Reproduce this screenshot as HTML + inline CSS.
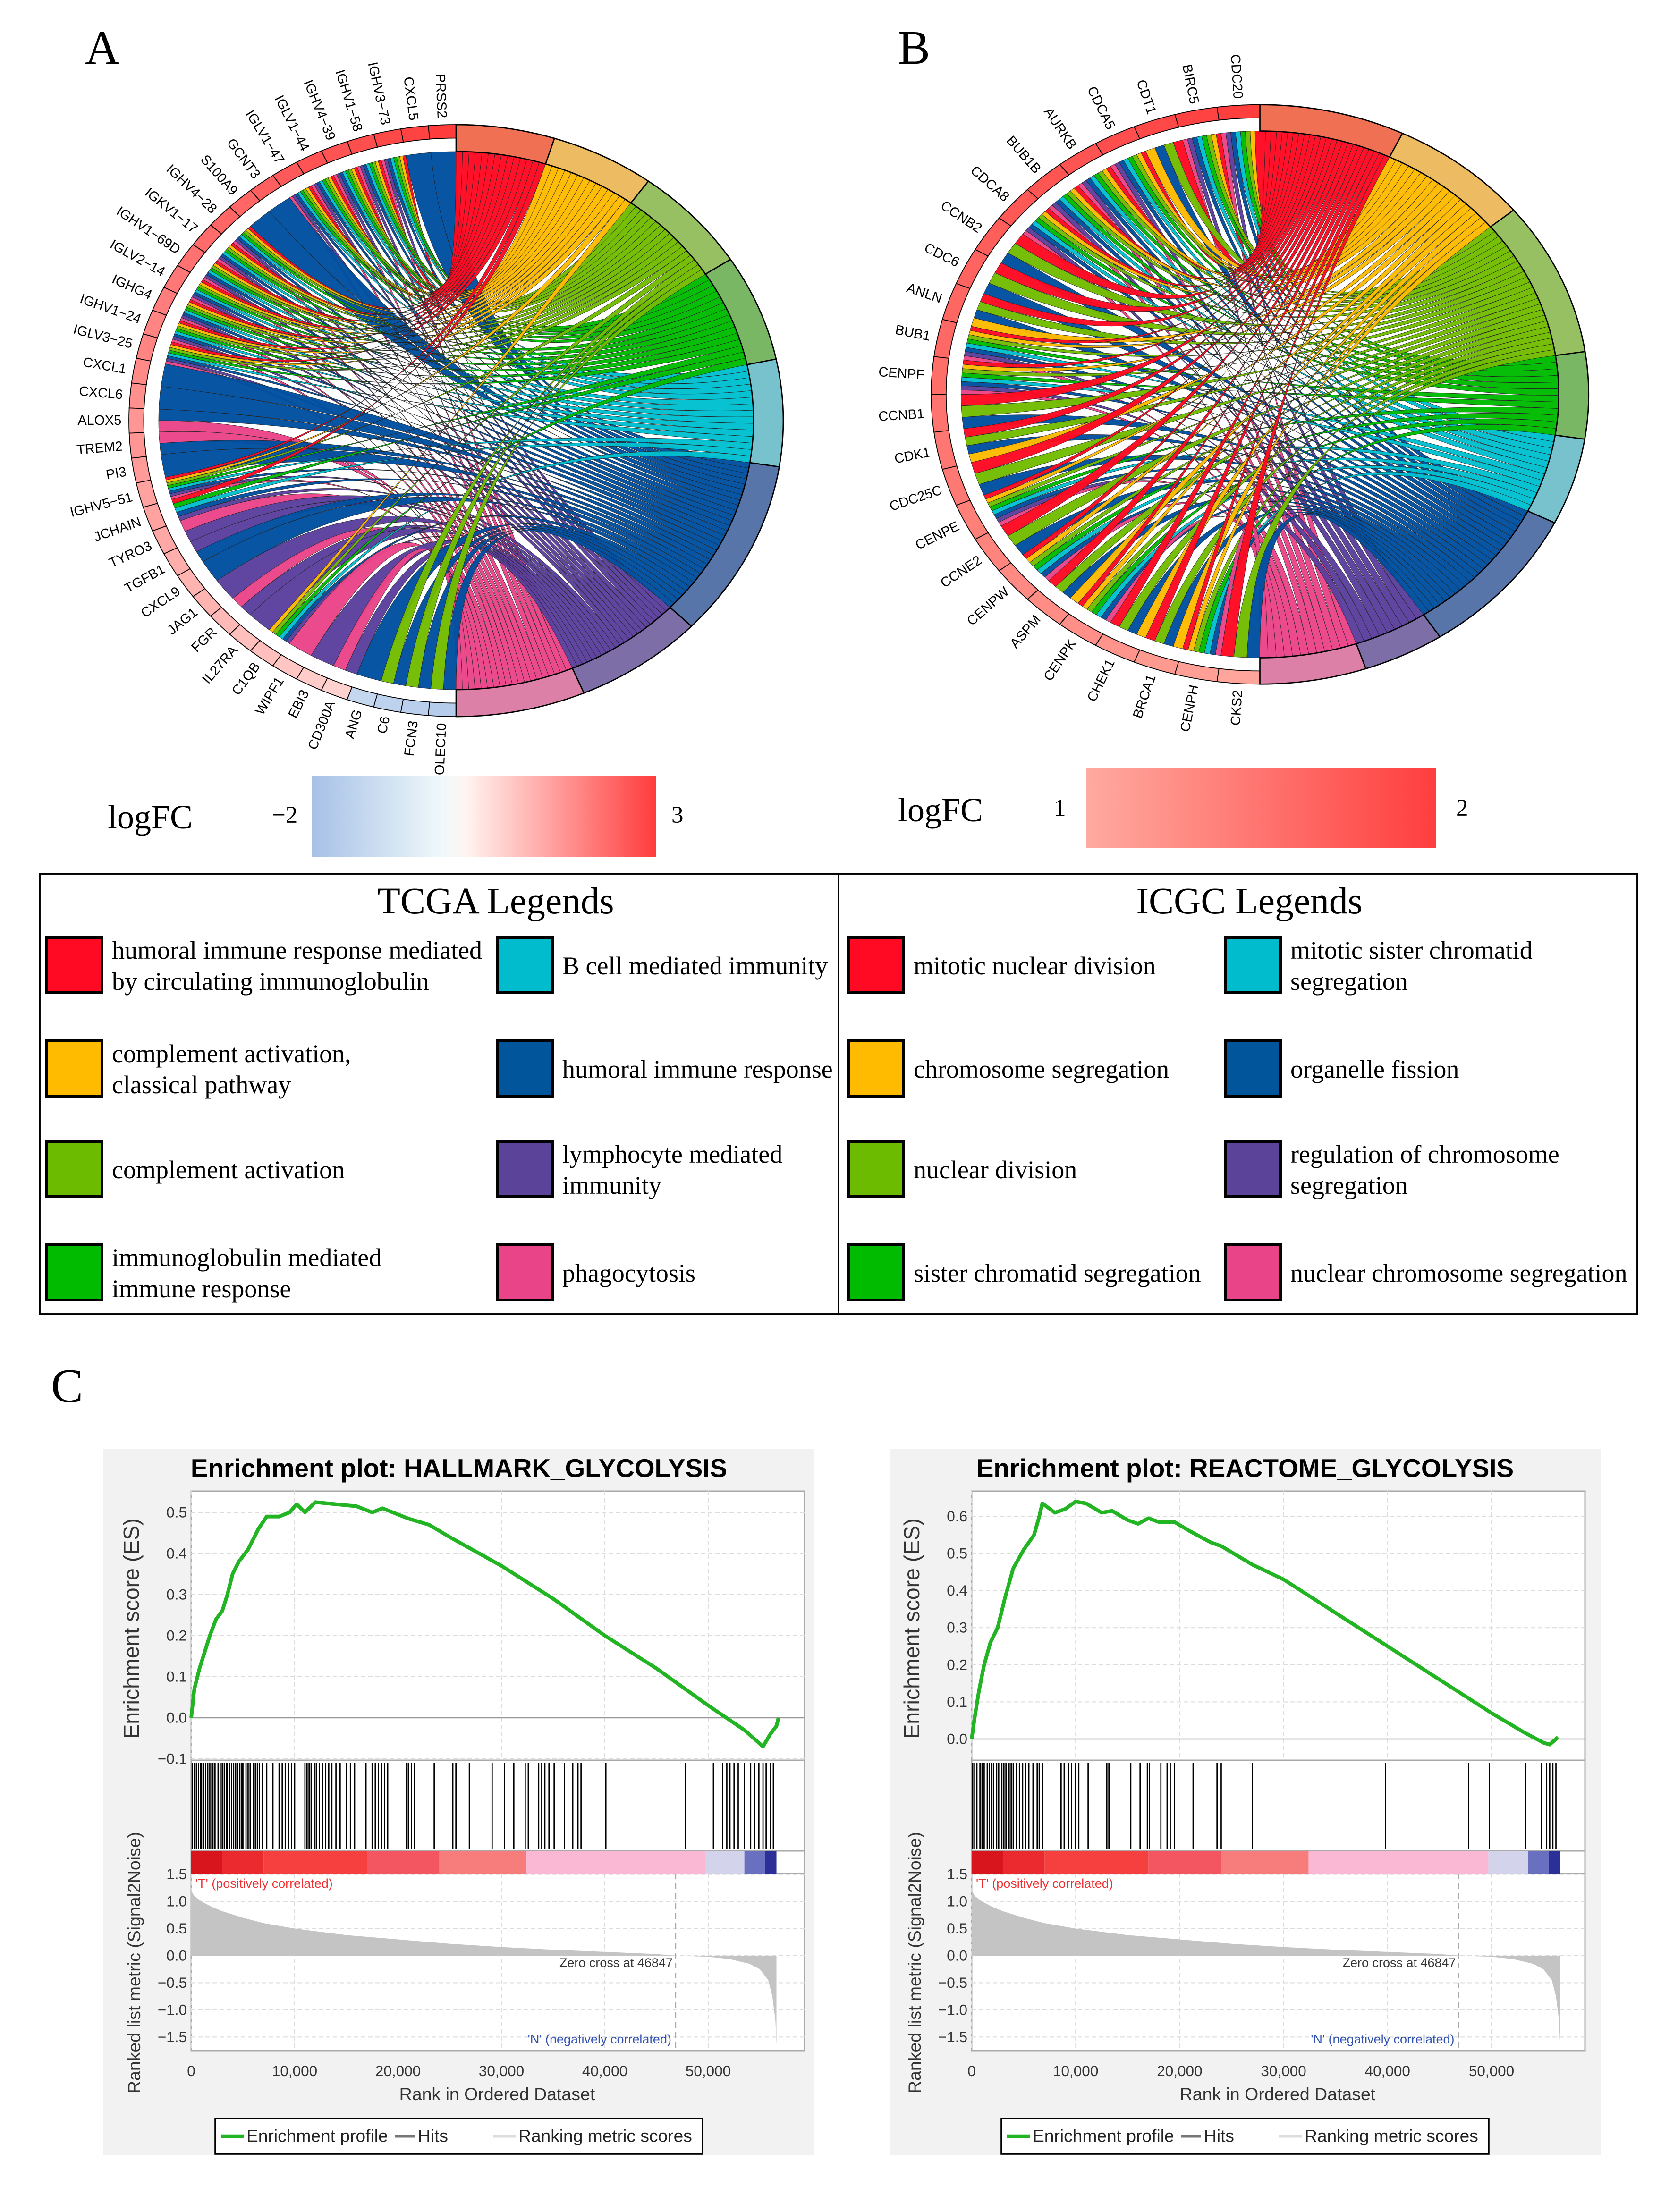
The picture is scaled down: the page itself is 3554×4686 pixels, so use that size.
<!DOCTYPE html>
<html><head><meta charset="utf-8"><style>
html,body{margin:0;padding:0;background:#fff}
svg{display:block}
.serif{font-family:"Liberation Serif",serif}
.sans{font-family:"Liberation Sans",sans-serif}
</style></head><body>
<svg id="fig" xmlns="http://www.w3.org/2000/svg" width="3554" height="4686" viewBox="0 0 1184.67 1562">
<defs>
<linearGradient id="gradA" x1="0" x2="1" y1="0" y2="0"><stop offset="0" stop-color="#a6c1e6"/><stop offset="0.38" stop-color="#f0f9fb"/><stop offset="0.45" stop-color="#fff4f0"/><stop offset="1" stop-color="#ff3c3c"/></linearGradient>
<linearGradient id="gradB" x1="0" x2="1" y1="0" y2="0"><stop offset="0" stop-color="#ffaaa0"/><stop offset="1" stop-color="#ff3e3e"/></linearGradient>
</defs>
<g class="serif" font-size="34"><text x="60" y="45">A</text><text x="634" y="45">B</text><text x="36" y="990">C</text></g>
<g id="chordA"></g>
<g id="chordB"></g>
<g class="serif"><text x="76" y="585" font-size="24">logFC</text><text x="192" y="581" font-size="17">−2</text><rect x="220" y="548" width="243" height="57" fill="url(#gradA)"/><text x="474" y="581" font-size="17">3</text></g>
<g class="serif"><text x="634" y="580" font-size="24">logFC</text><text x="744" y="576" font-size="17">1</text><rect x="767" y="542" width="247" height="57" fill="url(#gradB)"/><text x="1028" y="576" font-size="17">2</text></g>
<g id="legends" class="serif"></g>
<g id="gsea1" class="sans"></g>
<g id="gsea2" class="sans"></g>
</svg>
<script>
// ---------- Chord data ----------
const genesA=["PRSS2","CXCL5","IGHV3−73","IGHV1−58","IGHV4−39","IGLV1−44","IGLV1−47","GCNT3","S100A9","IGHV4−28","IGKV1−17","IGHV1−69D","IGLV2−14","IGHG4","IGHV1−24","IGLV3−25","CXCL1","CXCL6","ALOX5","TREM2","PI3","IGHV5−51","JCHAIN","TYRO3","TGFB1","CXCL9","JAG1","FGR","IL27RA","C1QB","WIPF1","EBI3","CD300A","ANG","C6","FCN3","COLEC10"];
const logfcA=[3.0,2.9,2.8,2.7,2.6,2.6,2.5,2.4,2.3,2.3,2.2,2.1,2.0,1.9,1.8,1.8,1.7,1.6,1.5,1.5,1.4,1.3,1.3,1.2,1.1,1.0,1.0,0.9,0.8,0.8,0.7,0.6,0.5,-1.2,-1.4,-1.5,-1.6];
const IG=[0,1,2,3,4,5,6,7];
const linksA=[[5],[5],IG,IG,IG,IG,IG,[5],[5],IG,IG,IG,IG,IG,IG,IG,[5],[5],[5,7],[7,5],[5],IG,[0,3,4,5,6],[7,6],[6,5],[5],[6],[7,6],[6],[1,2,3,4,5,6],[7],[6],[7,6],[5],[2,5],[2,5],[2,5]];
const termSpanA=[17.5,18.5,21,21,21,35,23,23];
const genesB=["CDC20","BIRC5","CDT1","CDCA5","AURKB","BUB1B","CDCA8","CCNB2","CDC6","ANLN","BUB1","CENPF","CCNB1","CDK1","CDC25C","CENPE","CCNE2","CENPW","ASPM","CENPK","CHEK1","BRCA1","CENPH","CKS2"];
const logfcB=[2.0,1.95,1.9,1.85,1.8,1.78,1.75,1.7,1.65,1.62,1.6,1.55,1.5,1.47,1.45,1.4,1.35,1.3,1.27,1.25,1.2,1.15,1.1,1.05];
const ALLB=[0,1,2,3,4,5,6,7], MOSTB=[0,1,2,3,4,5,7];
const linksB=[ALLB,ALLB,[0,2,5,1],ALLB,ALLB,ALLB,ALLB,[0,2,5],[0,2,5],[0,2,5,1],ALLB,ALLB,[0,2,5],[0,2,5,1],[0,2,5],ALLB,[0,2,5],MOSTB,[0,2,5,1],MOSTB,[0,2,5,1],[0,2,5,1],MOSTB,[0,2,5]];
const termSpanB=[25.7,24.8,31,17.4,17.4,30.5,14.4,18.8];
const linkCols=["#ff0a22","#ffbb00","#72bc00","#00bb00","#00bfd0","#0050a0","#5b3f9e","#ea4488"];
const bandCols=["#f07053","#ecbb62","#97c062","#7ab765","#77c2cc","#5875aa","#7e6ea8","#dd80a8"];

const NS="http://www.w3.org/2000/svg";
function mk(tag,attrs,parent){const e=document.createElementNS(NS,tag);for(const k in attrs)e.setAttribute(k,attrs[k]);if(parent)parent.appendChild(e);return e;}
function lerp(a,b,t){return a+(b-a)*t}
function hex(c){return [parseInt(c.substr(1,2),16),parseInt(c.substr(3,2),16),parseInt(c.substr(5,2),16)]}
function mix(c1,c2,t){const a=hex(c1),b=hex(c2);return "rgb("+a.map((v,i)=>Math.round(lerp(v,b[i],t))).join(",")+")"}

function drawChord(g,cx,cy,rx,ry,genes,logfc,links,spans,colFn){
  const P=(deg,f)=>{const r=deg*Math.PI/180;return [cx+rx*f*Math.cos(r),cy+ry*f*Math.sin(r)]};
  const arcPts=(a1,a2,f)=>{const n=Math.max(2,Math.ceil(Math.abs(a2-a1)/1.5));const o=[];for(let i=0;i<=n;i++){const p=P(lerp(a1,a2,i/n),f);o.push(p[0].toFixed(2)+","+p[1].toFixed(2))}return o};
  const band=(a1,a2,f1,f2)=>"M"+arcPts(a1,a2,f2).join("L")+"L"+arcPts(a2,a1,f1).join("L")+"Z";
  const N=genes.length, gw=180/N;
  const cnt=spans.map(()=>0); links.forEach(l=>l.forEach(t=>cnt[t]++));
  const tStart=[];let acc=-90;spans.forEach((s,i)=>{tStart.push(acc);acc+=s});
  const used=spans.map(()=>0);
  const gl=mk("g",{},g);
  
  
  genes.forEach((gname,i)=>{
    const a0=270-i*gw, ls=links[i], sw=gw/ls.length;
    ls.forEach((t,k)=>{
      const ga1=a0-k*sw, ga2=a0-(k+1)*sw;
      const ts=spans[t]/cnt[t];
      const tb1=tStart[t]+used[t]*ts, tb2=tb1+ts; used[t]++;
      const cC=cx.toFixed(1)+","+cy.toFixed(1);
      const d="M"+arcPts(ga1,ga2,1).join("L")+"Q"+cC+" "+P(tb1,1).map(v=>v.toFixed(2)).join(",")+"L"+arcPts(tb1,tb2,1).join("L")+"Q"+cC+" "+P(ga1,1).map(v=>v.toFixed(2)).join(",")+"Z";
      const p=mk("path",{d:d,fill:linkCols[t],stroke:"#222","stroke-width":"0.25","fill-opacity":"0.97"},gl);
      
      
    });
  });
  genes.forEach((gname,i)=>{
    const a1=270-i*gw,a2=a1-gw;
    const s=mk("path",{d:band(a1,a2,1.05,1.10),fill:colFn(logfc[i]),stroke:"#000","stroke-width":"0.6"},g);
    
    
    const am=(a1+a2)/2, p=P(am,1.125);
    const tx=mk("text",{x:p[0].toFixed(2),y:p[1].toFixed(2),"font-size":"9.6","text-anchor":"end","dominant-baseline":"central","class":"sans",transform:"rotate("+(am-180).toFixed(2)+" "+p[0].toFixed(2)+" "+p[1].toFixed(2)+")"},g);
    tx.textContent=gname;
    
    
  });
  spans.forEach((s,t)=>{
    const b=mk("path",{d:band(tStart[t],tStart[t]+s,1.0,1.10),fill:bandCols[t],stroke:"#000","stroke-width":"0.9"},g);
    
    
  });
}
const colA=v=>v<0?mix("#f2f9fc","#a6c1e6",Math.min(1,-v/2)):mix("#fff0ec","#ff3c3c",Math.min(1,v/3));
const colB=v=>mix("#ffaaa0","#ff3e3e",Math.max(0,Math.min(1,v-1)));
drawChord(document.getElementById("chordA"),322,297,210,190,genesA,logfcA,linksA,termSpanA,colA);
drawChord(document.getElementById("chordB"),889.5,278.5,211,186,genesB,logfcB,linksB,termSpanB,colB);

// ---------- Legends ----------
const tcgaTerms=[["humoral immune response mediated","by circulating immunoglobulin"],["complement activation,","classical pathway"],["complement activation"],["immunoglobulin mediated","immune response"],["B cell mediated immunity"],["humoral immune response"],["lymphocyte mediated","immunity"],["phagocytosis"]];
const icgcTerms=[["mitotic nuclear division"],["chromosome segregation"],["nuclear division"],["sister chromatid segregation"],["mitotic sister chromatid","segregation"],["organelle fission"],["regulation of chromosome","segregation"],["nuclear chromosome segregation"]];
const swCols=["#ff0a22","#ffbb00","#6cbb00","#00bb00","#00bccd","#00559b","#5b439a","#ea4488"];
const LG=document.getElementById("legends");
function legendBox(x,title,tcx,terms,c1,c2,name){
  const g=mk("g",{},LG);
  
  
  mk("rect",{x:x,y:617,width:564,height:311,fill:"none",stroke:"#000","stroke-width":"1.3"},g);
  const t=mk("text",{x:tcx,y:645,"font-size":"26.5","text-anchor":"middle"},g);t.textContent=title;
  const rows=[682,755,826,899];
  terms.forEach((lines,i)=>{
    const col=i<4?0:1,row=i%4, sx=x+(col?c2:c1);
    const e=mk("g",{},g);
    
    
    mk("rect",{x:sx,y:rows[row]-20,width:39,height:39,fill:swCols[i],stroke:"#000","stroke-width":"2"},e);
    lines.forEach((ln,k)=>{
      const y=rows[row]+6+(lines.length===2?(k===0?-11:11):0);
      const tt=mk("text",{x:sx+46,y:y,"font-size":"18"},e);tt.textContent=ln;
    });
  });
}
legendBox(28,"TCGA Legends",350,tcgaTerms,5,323,"tcga-legend");
legendBox(592,"ICGC Legends",882,icgcTerms,7,273,"icgc-legend");

// ---------- GSEA data ----------
const esRank1=[0,0.3,0.8,1.3,1.8,2.4,3.0,3.5,4.0,4.6,5.5,6.5,7.3,8.5,9.5,10.2,11.0,12.0,14.0,16.0,17.5,18.5,19.5,21.0,23.0,25.0,30.0,35.0,40.0,45.0,50.0,53.5,55.3,56.0,56.6,56.8];
const esVal1=[0,0.07,0.12,0.16,0.2,0.24,0.26,0.3,0.35,0.38,0.41,0.46,0.49,0.49,0.5,0.52,0.5,0.525,0.52,0.515,0.5,0.51,0.5,0.485,0.47,0.44,0.37,0.29,0.2,0.12,0.03,-0.03,-0.07,-0.04,-0.02,0.0];
const hits1=[0.1,0.3,0.5,0.7,0.9,1.0,1.2,1.4,1.6,1.8,2.0,2.1,2.3,2.6,2.8,3.0,3.2,3.4,3.5,3.7,3.9,4.1,4.3,4.5,4.7,4.9,5.0,5.3,5.5,5.7,6.0,6.2,6.4,6.6,6.9,7.3,7.9,8.5,8.8,9.1,9.4,9.7,10.0,11.0,11.2,11.4,11.6,11.9,12.1,12.4,12.7,13.0,13.3,13.6,14.0,14.4,15.0,15.4,15.8,16.9,17.5,17.8,18.1,18.4,18.7,19.0,20.8,21.0,21.3,21.6,23.5,25.3,25.6,26.9,29.1,30.3,31.2,32.3,32.6,33.6,33.9,34.2,34.6,35.1,36.1,36.9,37.4,37.7,40.1,47.8,50.5,51.4,51.8,52.1,52.5,52.9,53.5,54.1,54.5,54.9,55.3,55.6,56.0,56.3];
const esRank2=[0,0.3,0.7,1.2,1.8,2.5,3.2,4.0,5.0,6.0,6.5,6.8,8.0,9.0,10.0,11.0,12.5,13.5,15.0,16.0,17.0,18.0,19.5,21.0,23.0,24.0,27.0,30.0,35.0,40.0,45.0,50.0,53.0,55.0,55.6,56.4];
const esVal2=[0,0.06,0.13,0.2,0.26,0.3,0.38,0.46,0.51,0.55,0.6,0.635,0.61,0.62,0.64,0.635,0.61,0.615,0.59,0.58,0.595,0.585,0.585,0.56,0.53,0.52,0.47,0.43,0.34,0.25,0.16,0.07,0.02,-0.01,-0.015,0.005];
const hits2=[0.1,0.3,0.5,0.8,1.0,1.2,1.5,1.7,1.9,2.1,2.4,2.6,2.9,3.1,3.3,3.6,3.8,4.0,4.3,4.6,4.9,5.2,5.5,5.9,6.3,6.5,6.8,8.6,8.9,9.3,9.6,10.0,10.3,11.2,13.0,13.2,15.3,16.2,16.9,17.1,18.2,18.8,19.1,19.5,21.3,23.6,24.0,27.0,39.8,47.8,49.8,53.3,54.8,55.3,55.6,55.9,56.2];
const metricRank=[0,0.3,1,2,3,5,7,10,15,20,25,30,35,40,45,46.85,50,52,54,55,55.8,56.2,56.5,56.6];
const metricVal=[1.2,1.1,1.0,0.9,0.82,0.7,0.6,0.5,0.38,0.3,0.22,0.16,0.11,0.07,0.03,0,-0.02,-0.06,-0.15,-0.25,-0.45,-0.75,-1.2,-1.65];
const xTicks=[0,10,20,30,40,50];
const esTicks1=[-0.1,0,0.1,0.2,0.3,0.4,0.5];
const esTicks2=[0,0.1,0.2,0.3,0.4,0.5,0.6];
const metTicks=[1.5,1.0,0.5,0,-0.5,-1.0,-1.5];
const zeroCross=46.847;

function fmtTick(v){return (v<0?"−":"")+Math.abs(v).toFixed(1)}
function gsea(g,o){
  const X=r=>o.x0+r*o.kx;
  const Y=v=>o.y0-v*o.ky;
  const M=v=>1381-v*38.3;
  const bg=mk("rect",{x:o.bx,y:1023,width:502,height:499,fill:"#f2f2f2"},g);
  
  
  const t=mk("text",{x:o.bx+251,y:1043,"font-size":"18.3","font-weight":"bold","text-anchor":"middle"},g);t.textContent=o.title;
  
  
  const R=o.x0+433;
  mk("rect",{x:o.x0,y:1053,width:433,height:395,fill:"#fff",stroke:"#aaa","stroke-width":"1"},g);
  xTicks.forEach(v=>{mk("line",{x1:X(v),x2:X(v),y1:1053,y2:1243,stroke:"#ddd","stroke-dasharray":"3,2","stroke-width":"0.7"},g);mk("line",{x1:X(v),x2:X(v),y1:1323,y2:1448,stroke:"#ddd","stroke-dasharray":"3,2","stroke-width":"0.7"},g);});
  o.esT.forEach(v=>mk("line",{x1:o.x0,x2:R,y1:Y(v),y2:Y(v),stroke:"#ddd","stroke-dasharray":"3,2","stroke-width":"0.7"},g));
  metTicks.forEach(v=>mk("line",{x1:o.x0,x2:R,y1:M(v),y2:M(v),stroke:"#ddd","stroke-dasharray":"3,2","stroke-width":"0.7"},g));
  mk("line",{x1:o.x0,x2:R,y1:Y(0),y2:Y(0),stroke:"#999","stroke-width":"0.8"},g);
  mk("line",{x1:o.x0,x2:R,y1:1243,y2:1243,stroke:"#aaa","stroke-width":"1"},g);
  mk("line",{x1:o.x0,x2:R,y1:1307,y2:1307,stroke:"#aaa","stroke-width":"1"},g);
  mk("line",{x1:o.x0,x2:R,y1:1323,y2:1323,stroke:"#aaa","stroke-width":"1"},g);
  o.esT.forEach(v=>{const tt=mk("text",{x:o.x0-3,y:Y(v)+3.5,"font-size":"10.5","text-anchor":"end",fill:"#333"},g);tt.textContent=fmtTick(v);});
  metTicks.forEach(v=>{const tt=mk("text",{x:o.x0-3,y:M(v)+3.5,"font-size":"10.5","text-anchor":"end",fill:"#333"},g);tt.textContent=fmtTick(v);});
  xTicks.forEach(v=>{const tt=mk("text",{x:X(v),y:1466,"font-size":"10.5","text-anchor":"middle",fill:"#333"},g);tt.textContent=v===0?"0":v+",000";});
  const yl=mk("text",{x:0,y:0,"font-size":"15.5","text-anchor":"middle",fill:"#333",transform:"translate("+(o.x0-37)+",1150) rotate(-90)"},g);yl.textContent="Enrichment score (ES)";
  
  
  const yl2=mk("text",{x:0,y:0,"font-size":"12.5","text-anchor":"middle",fill:"#333",transform:"translate("+(o.x0-36)+",1386) rotate(-90)"},g);yl2.textContent="Ranked list metric (Signal2Noise)";
  
  
  const xl=mk("text",{x:o.x0+216,y:1483,"font-size":"12.5","text-anchor":"middle",fill:"#333"},g);xl.textContent="Rank in Ordered Dataset";
  
  
  const cb=mk("g",{},g);
  
  
  const segs=[[0,3,"#d8141c"],[3,7,"#ea2a2e"],[7,17,"#f5403f"],[17,24,"#f35660"],[24,32.4,"#f77d7d"],[32.4,49.7,"#fbb8d4"],[49.7,53.5,"#d3d3ec"],[53.5,55.5,"#6a70c0"],[55.5,56.6,"#2d2f98"]];
  segs.forEach(s=>mk("rect",{x:X(s[0]),y:1307,width:X(s[1])-X(s[0]),height:16,fill:s[2]},cb));
  const hg=mk("g",{},g);
  
  
  o.hits.forEach(h=>{mk("line",{x1:X(h),x2:X(h),y1:1245,y2:1306,stroke:"#000","stroke-width":"0.9"},hg);});
  let d="M"+X(metricRank[0])+","+M(0);
  metricRank.forEach((r,i)=>{d+="L"+X(r).toFixed(2)+","+M(metricVal[i]).toFixed(2)});
  d+="L"+X(metricRank[metricRank.length-1])+","+M(0)+"Z";
  const ar=mk("path",{d:d,fill:"#c4c4c4"},g);
  
  
  mk("line",{x1:X(zeroCross),x2:X(zeroCross),y1:1323,y2:1448,stroke:"#aaa","stroke-dasharray":"4,3","stroke-width":"0.8"},g);
  const z=mk("text",{x:X(zeroCross)-2,y:1389,"font-size":"9","text-anchor":"end",fill:"#333"},g);z.textContent="Zero cross at 46847";
  const tp=mk("text",{x:o.x0+3,y:1333,"font-size":"9",fill:"#f03030"},g);tp.textContent="'T' (positively correlated)";
  const tn=mk("text",{x:X(zeroCross)-3,y:1443,"font-size":"9","text-anchor":"end",fill:"#3050b0"},g);tn.textContent="'N' (negatively correlated)";
  const pts=o.er.map((r,i)=>X(r).toFixed(2)+","+Y(o.ev[i]).toFixed(2)).join(" ");
  const pl=mk("polyline",{points:pts,fill:"none",stroke:"#22b422","stroke-width":"2.6","stroke-linejoin":"round"},g);
  
  
  const lg=mk("g",{},g);
  
  
  mk("rect",{x:o.bx+79,y:1496,width:344,height:25,fill:"#fff",stroke:"#000","stroke-width":"1.2"},lg);
  mk("line",{x1:o.bx+83,x2:o.bx+99,y1:1508.5,y2:1508.5,stroke:"#22b422","stroke-width":"2.5"},lg);
  let tx=mk("text",{x:o.bx+101,y:1512.5,"font-size":"12.4",fill:"#222"},lg);tx.textContent="Enrichment profile";
  mk("line",{x1:o.bx+206,x2:o.bx+220,y1:1508.5,y2:1508.5,stroke:"#777","stroke-width":"2"},lg);
  tx=mk("text",{x:o.bx+222,y:1512.5,"font-size":"12.4",fill:"#222"},lg);tx.textContent="Hits";
  mk("line",{x1:o.bx+275,x2:o.bx+291,y1:1508.5,y2:1508.5,stroke:"#ddd","stroke-width":"2"},lg);
  tx=mk("text",{x:o.bx+293,y:1512.5,"font-size":"12.4",fill:"#222"},lg);tx.textContent="Ranking metric scores";
}
const g1=document.getElementById("gsea1");


gsea(g1,{bx:73,x0:135,kx:7.3,y0:1213,ky:290,esT:esTicks1,title:"Enrichment plot: HALLMARK_GLYCOLYSIS",er:esRank1,ev:esVal1,hits:hits1});
const g2=document.getElementById("gsea2");


gsea(g2,{bx:628,x0:686,kx:7.34,y0:1228,ky:262,esT:esTicks2,title:"Enrichment plot: REACTOME_GLYCOLYSIS",er:esRank2,ev:esVal2,hits:hits2});
</script>
</body></html>
